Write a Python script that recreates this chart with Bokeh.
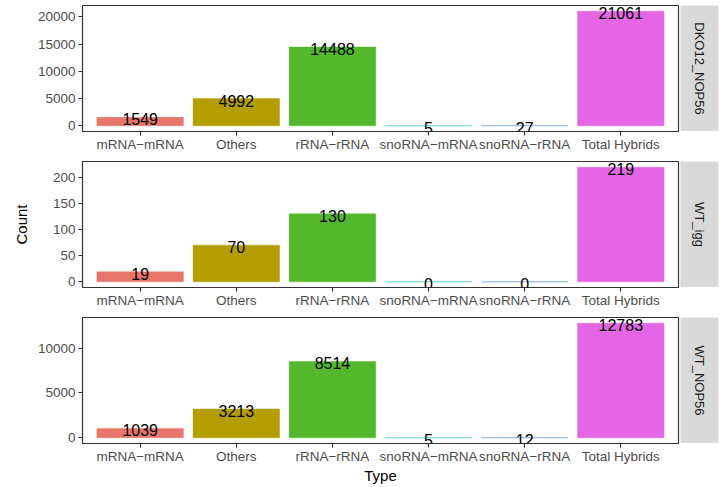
import math
from bokeh.plotting import figure
from bokeh.models import ColumnDataSource, Range1d, FixedTicker
from bokeh.layouts import column, row
from bokeh.core.properties import value
from bokeh.embed import file_html
from bokeh.resources import INLINE

categories = ["mRNA\u2212mRNA", "Others", "rRNA\u2212rRNA", "snoRNA\u2212mRNA", "snoRNA\u2212rRNA", "Total Hybrids"]
colors = ["#E8756A", "#B39D00", "#53B82C", "#2EC0D0", "#5A8EF5", "#E466E4"]
samples = ["DKO12_NOP56", "WT_igg", "WT_NOP56"]
dko12_nop56 = [1549, 4992, 14488, 5, 27, 21061]
wt_igg = [19, 70, 130, 0, 0, 219]
wt_nop56 = [1039, 3213, 8514, 5, 12, 12783]
yticks_dko12 = [0, 5000, 10000, 15000, 20000]
yticks_igg = [0, 50, 100, 150, 200]
yticks_wt = [0, 5000, 10000]

FONT = "Liberation Sans"
FRAME_W = 596
FRAME_H = 126
LEFT = 82


def panel(vals, yticks, sample, top, bottom, xlabel=None, ylabel=None):
    mx = max(vals)
    pad = mx * 0.05
    xs = list(range(1, len(categories) + 1))
    src = ColumnDataSource(dict(x=xs, top=vals, color=colors,
                                label=[str(v) for v in vals]))
    p = figure(frame_width=FRAME_W, frame_height=FRAME_H,
               x_range=Range1d(0.4, len(categories) + 0.6),
               y_range=Range1d(-pad, mx + pad),
               output_backend="svg", toolbar_location=None,
               min_border_left=LEFT, min_border_right=2,
               min_border_top=top, min_border_bottom=bottom)
    p.vbar(x="x", top="top", bottom=0, width=0.9, source=src,
           fill_color="color", line_color="color", line_width=0.8, line_alpha=0.55)
    p.text(x="x", y="top", text="label", source=src,
           text_align="center", text_baseline="middle", y_offset=2,
           text_font=value(FONT), text_font_size="16px", text_color="#000000")
    p.xgrid.visible = False
    p.ygrid.visible = False
    p.outline_line_color = "#333333"
    p.outline_line_width = 1.2
    p.background_fill_color = "white"
    p.border_fill_color = "white"
    for ax in (p.xaxis[0], p.yaxis[0]):
        ax.axis_line_color = None
        ax.major_tick_line_color = "#333333"
        ax.major_tick_line_width = 1.2
        ax.major_tick_out = 4
        ax.major_tick_in = 0
        ax.minor_tick_line_color = None
        ax.major_label_text_font = FONT
        ax.major_label_text_font_size = "13.5px"
        ax.major_label_text_color = "#4D4D4D"
        ax.major_label_standoff = 3
        ax.axis_label_text_font = FONT
        ax.axis_label_text_font_size = "15px"
        ax.axis_label_text_font_style = "normal"
        ax.axis_label_text_color = "#000000"
    p.xaxis.major_label_standoff = 1
    p.xaxis.ticker = FixedTicker(ticks=xs)
    p.xaxis.major_label_overrides = {x: c for x, c in zip(xs, categories)}
    p.yaxis.ticker = FixedTicker(ticks=yticks)
    if xlabel:
        p.xaxis.axis_label = xlabel
        p.xaxis.axis_label_standoff = 0
    if ylabel:
        p.yaxis.axis_label = ylabel
        p.yaxis.axis_label_standoff = 20

    s = figure(frame_width=38, frame_height=FRAME_H,
               x_range=Range1d(0, 1), y_range=Range1d(0, 1),
               output_backend="svg", toolbar_location=None,
               min_border_left=0, min_border_right=5,
               min_border_top=top, min_border_bottom=0)
    s.axis.visible = False
    s.grid.visible = False
    s.outline_line_color = None
    s.background_fill_color = "#D9D9D9"
    s.border_fill_color = "white"
    s.text(x=[0.5], y=[0.5], text=[sample], angle=-math.pi / 2,
           text_align="center", text_baseline="middle",
           text_font=value(FONT), text_font_size="13px", text_color="#1A1A1A")
    return row(p, s)


r1 = panel(dko12_nop56, yticks_dko12, samples[0], 5, 30)
r2 = panel(wt_igg, yticks_igg, samples[1], 0, 30, ylabel="Count")
r3 = panel(wt_nop56, yticks_wt, samples[2], 0, 44, xlabel="Type")
layout = column(r1, r2, r3)

open("out.html", "w").write(file_html(layout, INLINE))
